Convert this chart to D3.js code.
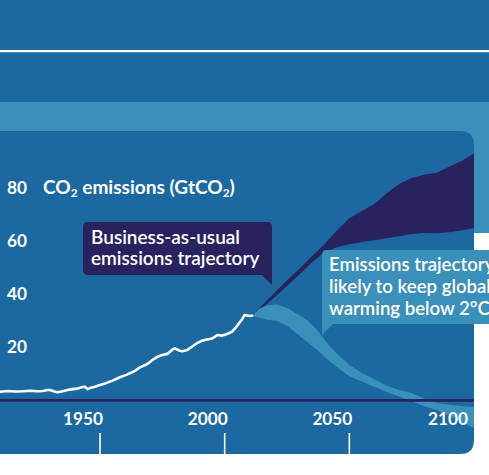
<!DOCTYPE html>
<html><head><meta charset="utf-8">
<script src="https://cdn.jsdelivr.net/npm/d3@7"></script>
<style>html,body{margin:0;padding:0;background:#fff;overflow:hidden}</style>
</head><body>
<svg id="c" width="489" height="475"></svg>
<script>
// ---- data ----
const histYears = [1910,1913,1916,1919,1922,1925,1927,1929,1930,1932,1933,1935,1937,1939,1941,1943,1944,1945,1946,1948,1950,1952,1955,1958,1960,1962,1964,1966,1969,1971,1973,1975,1977,1979,1980,1982,1983,1985,1987,1989,1991,1993,1995,1997,1999,2001,2003,2005,2007,2008,2010,2011];
const histValues = [3.1,3.4,3.2,3.3,3.5,3.3,3.4,3.8,3.8,3.1,2.9,3.3,3.8,4.1,4.3,4.9,5.0,4.1,4.5,5.0,5.7,6.2,7.3,8.6,9.3,10.1,11.0,12.3,13.6,15.1,16.3,17.0,17.4,19.0,19.5,18.6,18.4,18.9,20.2,21.5,22.4,22.8,23.2,24.5,24.3,24.9,25.8,28.0,30.5,32.1,31.7,31.8];

const bauYears = [2011,2015,2020,2025,2030,2035,2040,2045,2050,2055,2060,2065,2070,2075,2080,2085,2090,2095,2100];
const bauUpper = [31.8,35.8,40.5,45.2,49.6,54.2,58.8,64.0,68.6,71.3,74.0,78.0,81.5,83.8,85.0,85.8,88.0,90.2,93.0];
const bauLower = [31.8,34.6,38.8,43.0,47.4,52.0,55.8,57.6,58.8,59.6,60.3,61.0,61.8,62.6,63.0,62.9,63.3,64.0,64.9];

const twoCYears = [2011,2014,2017,2021,2025,2029,2033,2037,2041,2045,2050,2055,2060,2065,2070,2075,2080,2085,2090,2095,2100];
const twoCUpper = [31.8,34.5,35.8,36.0,34.8,32.5,30.2,26.5,21.5,17.5,13.2,10.2,7.8,5.4,3.8,2.6,0.6,-1.0,-1.8,-2.3,-2.6];
const twoCLower = [31.8,31.0,30.3,29.8,28.0,25.0,22.0,19.0,15.5,12.5,9.0,7.0,5.0,3.0,1.3,-0.5,-2.4,-3.8,-5.9,-8.2,-10.6];

const yTickValues = [20,40,60,80];
const xTickValues = [1950,2000,2050,2100];
const xTickLabels = ["1950","2000","2050","2100"];

const bauLabel = ["Business-as-usual","emissions trajectory"];
const twoCLabel = ["Emissions trajectory","likely to keep global","warming below 2°C"];

// ---- style ----
const COL = {blue:"#1b69a0", light:"#3a90bb", navy:"#28235f", white:"#ffffff"};
const FONT = "Lato, 'Open Sans', sans-serif";

const svg = d3.select("#c");
const W = 489, H = 475;

const x = d3.scaleLinear().domain([1910, 2100]).range([0.3, 474]);
const y = d3.scaleLinear().domain([0, 80]).range([400, 188]);

// scale a text's font-size so that its rendered width matches a target width
function fitWidth(sel, target) {
  const w = sel.node().getComputedTextLength();
  const fs = parseFloat(sel.attr("font-size"));
  const nfs = fs * target / w;
  sel.attr("font-size", nfs);
  return nfs;
}

// background layers
svg.append("rect").attr("width", W).attr("height", H).attr("fill", COL.white);
svg.append("rect").attr("width", W).attr("height", 102).attr("fill", COL.blue);
svg.append("rect").attr("y", 50).attr("width", W).attr("height", 2.2).attr("fill", COL.white);
svg.append("rect").attr("y", 102).attr("width", W).attr("height", 30).attr("fill", COL.light);
svg.append("rect").attr("x", 460).attr("y", 102).attr("width", 40).attr("height", 131).attr("fill", COL.light);

// panel
const P = {x0: -30, x1: 474, y0: 131, y1: 454, r: 14};
function panelPath() {
  const {x0,x1,y0,y1,r} = P;
  return `M${x0},${y0} H${x1-r} Q${x1},${y0} ${x1},${y0+r} V${y1-r} Q${x1},${y1} ${x1-r},${y1} H${x0} Z`;
}
svg.append("path").attr("d", panelPath()).attr("fill", COL.blue);
svg.append("clipPath").attr("id","pc").append("path").attr("d", panelPath());

const g = svg.append("g").attr("clip-path","url(#pc)");

// bands
const bauData = bauYears.map((yr,i)=>({yr, lo:bauLower[i], hi:bauUpper[i]}));
const twoCData = twoCYears.map((yr,i)=>({yr, lo:twoCLower[i], hi:twoCUpper[i]}));
const area = d3.area().x(d=>x(d.yr)).y0(d=>y(d.lo)).y1(d=>y(d.hi));
g.append("path").datum(bauData).attr("d", area).attr("fill", COL.navy);
g.append("path").datum(twoCData).attr("d", area).attr("fill", COL.light);

// axis baseline
g.append("line").attr("x1", -30).attr("x2", 480).attr("y1", y(0)+0.3).attr("y2", y(0)+0.3)
  .attr("stroke", COL.navy).attr("stroke-width", 2.7);

// historical line
const histData = histYears.map((yr,i)=>({yr, v:histValues[i]}));
g.append("path").datum(histData)
  .attr("d", d3.line().x(d=>x(d.yr)).y(d=>y(d.v)))
  .attr("fill","none").attr("stroke", COL.white).attr("stroke-width", 2.6)
  .attr("stroke-linejoin","round").attr("stroke-linecap","round");

// x ticks & labels
let numFs = 17;
xTickValues.forEach((t,i)=>{
  const xp = x(t);
  if (xp < P.x1 - 3) {
    g.append("line").attr("x1", xp).attr("x2", xp).attr("y1", 433).attr("y2", 456)
      .attr("stroke", COL.white).attr("stroke-width", 1.6);
  }
  const lx = Math.min(xp + 3, P.x1 - 6);
  const tx = svg.append("text").attr("x", lx).attr("y", 425).attr("text-anchor","end")
    .attr("fill", COL.white).attr("font-family", FONT).attr("font-weight", 700)
    .attr("font-size", numFs).text(xTickLabels[i]);
  if (i === 0) numFs = fitWidth(tx, 40); else tx.attr("font-size", numFs);
});

// y labels
yTickValues.forEach(v=>{
  svg.append("text").attr("x", 7).attr("y", y(v)+5.8)
    .attr("fill", COL.white).attr("font-family", FONT).attr("font-weight", 700)
    .attr("font-size", numFs).text(v);
});

// axis title
const title = svg.append("text").attr("x", 43).attr("y", y(80)+5.6)
  .attr("fill", COL.white).attr("font-family", FONT).attr("font-weight", 700).attr("font-size", 16);
title.append("tspan").text("CO");
title.append("tspan").attr("dy", "0.32em").attr("font-size", "0.62em").text("2");
title.append("tspan").attr("dy", "-0.2em").text(" emissions (GtCO");
title.append("tspan").attr("dy", "0.32em").attr("font-size", "0.62em").text("2");
title.append("tspan").attr("dy", "-0.2em").text(")");
fitWidth(title, 192);

// callout 1 (BAU)
svg.append("path")
  .attr("d","M88,222 H267 Q272,222 272,227 V285 L262,275 H88 Q83,275 83,270 V227 Q83,222 88,222 Z")
  .attr("fill", COL.navy);
let c1fs = 17.5;
bauLabel.forEach((t,i)=>{
  const tx = svg.append("text").attr("x", 91).attr("y", 243.5 + i*21.5)
    .attr("fill", COL.white).attr("font-family", FONT).attr("font-weight", 600)
    .attr("font-size", c1fs).text(t);
  if (i === 0) c1fs = fitWidth(tx, 149); else tx.attr("font-size", c1fs);
});

// callout 2 (2°C)
svg.append("path")
  .attr("d","M327,250 H500 V324 H333 L322,335 V255 Q322,250 327,250 Z")
  .attr("fill", COL.light);
const c2 = twoCLabel.map((t,i)=>svg.append("text").attr("x", 329).attr("y", 271 + i*22)
    .attr("fill", COL.white).attr("font-family", FONT).attr("font-weight", 600)
    .attr("font-size", 17.5).text(t));
const c2fs = fitWidth(c2[2], 161);
c2.forEach(s=>s.attr("font-size", c2fs));
</script>
</body></html>
